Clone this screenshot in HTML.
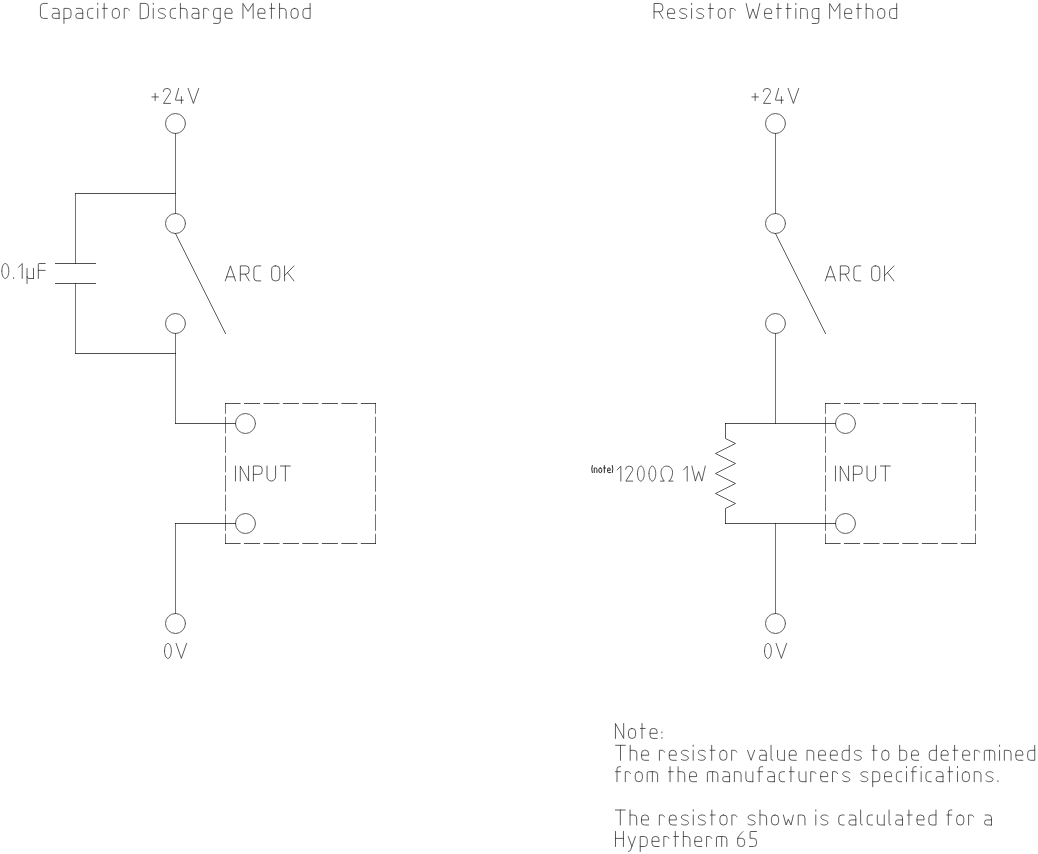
<!DOCTYPE html>
<html><head><meta charset="utf-8"><title>Arc OK wiring</title>
<style>
html,body{margin:0;padding:0;background:#fff;}
body{width:1038px;height:854px;overflow:hidden;font-family:"Liberation Sans",sans-serif;}
svg{display:block;}
path,circle{vector-effect:non-scaling-stroke;}
.b{stroke-linecap:butt;}
</style></head>
<body>
<svg width="1038" height="854" viewBox="0 0 1038 854">
<rect width="1038" height="854" fill="#fff"/>
<g fill="none" stroke="#000" stroke-width="1.0" stroke-linecap="square" stroke-linejoin="miter">
<g stroke="#5e5e5e"><circle cx="175.5" cy="123.5" r="10"/><circle cx="175.5" cy="223.5" r="10"/><circle cx="175.5" cy="323.5" r="10"/><circle cx="245.5" cy="423.5" r="10"/><circle cx="245.5" cy="523.5" r="10"/><circle cx="175.5" cy="623.5" r="10"/><circle cx="775.5" cy="123.5" r="10"/><circle cx="775.5" cy="223.5" r="10"/><circle cx="775.5" cy="323.5" r="10"/><circle cx="845.5" cy="423.5" r="10"/><circle cx="845.5" cy="523.5" r="10"/><circle cx="775.5" cy="623.5" r="10"/></g>
<g stroke-opacity="0.68"><path d="M75.5 193.5L175.5 193.5"/><path d="M55.5 263.5L95.5 263.5"/><path d="M55.5 283.5L95.5 283.5"/><path d="M75.5 353.5L175.5 353.5"/><path d="M175.5 423.5L235.5 423.5"/><path d="M175.5 523.5L235.5 523.5"/><path class="b" d="M225 403.5L240.55 403.5"/><path class="b" d="M243.95 403.5L260.03 403.5"/><path class="b" d="M263.43 403.5L279.51 403.5"/><path class="b" d="M282.91 403.5L298.99 403.5"/><path class="b" d="M302.39 403.5L318.47 403.5"/><path class="b" d="M321.87 403.5L337.95 403.5"/><path class="b" d="M341.35 403.5L357.43 403.5"/><path class="b" d="M360.83 403.5L376 403.5"/><path class="b" d="M225 543.5L240.55 543.5"/><path class="b" d="M243.95 543.5L260.03 543.5"/><path class="b" d="M263.43 543.5L279.51 543.5"/><path class="b" d="M282.91 543.5L298.99 543.5"/><path class="b" d="M302.39 543.5L318.47 543.5"/><path class="b" d="M321.87 543.5L337.95 543.5"/><path class="b" d="M341.35 543.5L357.43 543.5"/><path class="b" d="M360.83 543.5L376 543.5"/><path d="M725.5 423.5L835.5 423.5"/><path d="M725.5 523.5L835.5 523.5"/><path class="b" d="M825 403.5L840.55 403.5"/><path class="b" d="M843.95 403.5L860.03 403.5"/><path class="b" d="M863.43 403.5L879.51 403.5"/><path class="b" d="M882.91 403.5L898.99 403.5"/><path class="b" d="M902.39 403.5L918.47 403.5"/><path class="b" d="M921.87 403.5L937.95 403.5"/><path class="b" d="M941.35 403.5L957.43 403.5"/><path class="b" d="M960.83 403.5L976 403.5"/><path class="b" d="M825 543.5L840.55 543.5"/><path class="b" d="M843.95 543.5L860.03 543.5"/><path class="b" d="M863.43 543.5L879.51 543.5"/><path class="b" d="M882.91 543.5L898.99 543.5"/><path class="b" d="M902.39 543.5L918.47 543.5"/><path class="b" d="M921.87 543.5L937.95 543.5"/><path class="b" d="M941.35 543.5L957.43 543.5"/><path class="b" d="M960.83 543.5L976 543.5"/></g>
<g stroke-opacity="0.55"><path d="M175.5 133.5L175.5 213.5"/><path d="M175.5 333.5L175.5 423.5"/><path d="M75.5 193.5L75.5 263.5"/><path d="M75.5 283.5L75.5 353.5"/><path d="M175.5 523.5L175.5 613.5"/><path class="b" d="M225.5 403L225.5 413.8"/><path class="b" d="M225.5 416.8L225.5 433.3"/><path class="b" d="M225.5 436.3L225.5 452.8"/><path class="b" d="M225.5 455.8L225.5 472.3"/><path class="b" d="M225.5 475.3L225.5 491.8"/><path class="b" d="M225.5 494.8L225.5 511.3"/><path class="b" d="M225.5 514.3L225.5 530.8"/><path class="b" d="M225.5 533.8L225.5 544"/><path class="b" d="M375.5 403L375.5 413.8"/><path class="b" d="M375.5 416.8L375.5 433.3"/><path class="b" d="M375.5 436.3L375.5 452.8"/><path class="b" d="M375.5 455.8L375.5 472.3"/><path class="b" d="M375.5 475.3L375.5 491.8"/><path class="b" d="M375.5 494.8L375.5 511.3"/><path class="b" d="M375.5 514.3L375.5 530.8"/><path class="b" d="M375.5 533.8L375.5 544"/><path d="M775.5 133.5L775.5 213.5"/><path d="M775.5 333.5L775.5 423.5"/><path d="M775.5 523.5L775.5 613.5"/><path class="b" d="M825.5 403L825.5 413.8"/><path class="b" d="M825.5 416.8L825.5 433.3"/><path class="b" d="M825.5 436.3L825.5 452.8"/><path class="b" d="M825.5 455.8L825.5 472.3"/><path class="b" d="M825.5 475.3L825.5 491.8"/><path class="b" d="M825.5 494.8L825.5 511.3"/><path class="b" d="M825.5 514.3L825.5 530.8"/><path class="b" d="M825.5 533.8L825.5 544"/><path class="b" d="M975.5 403L975.5 413.8"/><path class="b" d="M975.5 416.8L975.5 433.3"/><path class="b" d="M975.5 436.3L975.5 452.8"/><path class="b" d="M975.5 455.8L975.5 472.3"/><path class="b" d="M975.5 475.3L975.5 491.8"/><path class="b" d="M975.5 494.8L975.5 511.3"/><path class="b" d="M975.5 514.3L975.5 530.8"/><path class="b" d="M975.5 533.8L975.5 544"/></g>
<g stroke-opacity="0.64"><path d="M175.5 233.5L225.5 333.5"/><path d="M775.5 233.5L825.5 333.5"/><path d="M725.5 423.5 L725.5 438.5 L735.5 443.5 L715.5 453.5 L735.5 463.5 L715.5 473.5 L735.5 483.5 L715.5 493.5 L735.5 503.5 L725.5 508.5 L725.5 523.5"/></g>
</g>
<g fill="none" stroke="#262626" stroke-width="0.75" stroke-linecap="round" stroke-linejoin="round" vector-effect="non-scaling-stroke">
<g transform="translate(40.43 18.4) scale(1.0053 1.0000)"><path transform="translate(0 0)" d="M 6.9 -15 H 3.2 A 3.2 3.2 0 0 0 0 -11.8 V -3.2 A 3.2 3.2 0 0 0 3.2 0 H 6.9"/><path transform="translate(11.7 0)" d="M 0.6 -10 H 4.1 A 2.8 2.8 0 0 1 6.9 -7.2 V 0 M 6.9 -5.1 H 2.3 A 2.3 2.3 0 0 0 0 -2.8 V -2.3 A 2.3 2.3 0 0 0 2.3 0 H 6.9"/><path transform="translate(23.4 0)" d="M 0 5 V -10 H 4 A 3 3 0 0 1 7 -7 V -3 A 3 3 0 0 1 4 0 H 0"/><path transform="translate(35.2 0)" d="M 0.6 -10 H 4.1 A 2.8 2.8 0 0 1 6.9 -7.2 V 0 M 6.9 -5.1 H 2.3 A 2.3 2.3 0 0 0 0 -2.8 V -2.3 A 2.3 2.3 0 0 0 2.3 0 H 6.9"/><path transform="translate(46.9 0)" d="M 5.3 -10 H 3 A 3 3 0 0 0 0 -7 V -3 A 3 3 0 0 0 3 0 H 5.3"/><path transform="translate(57 0)" d="M 0 -10 V 0 M 0 -15.2 V -14"/><path transform="translate(61.8 0)" d="M 1.6 -15 V 0 M 0 -10 H 4.85"/><path transform="translate(71.45 0)" d="M 3.4 -10 H 3.7 A 3.4 3.4 0 0 1 7.1 -6.6 V -3.4 A 3.4 3.4 0 0 1 3.7 0 H 3.4 A 3.4 3.4 0 0 1 0 -3.4 V -6.6 A 3.4 3.4 0 0 1 3.4 -10 Z"/><path transform="translate(83.35 0)" d="M 0 0 V -10 H 2.6 C 3.7 -10 4.6 -9.4 5.1 -8.1"/><path transform="translate(99.25 0)" d="M 0 0 V -15 H 4.9 A 3.3 3.3 0 0 1 8.2 -11.7 V -3.3 A 3.3 3.3 0 0 1 4.9 0 Z"/><path transform="translate(112.25 0)" d="M 0 -10 V 0 M 0 -15.2 V -14"/><path transform="translate(117.05 0)" d="M 7.3 -8.9 C 6.7 -9.8 5.5 -10 3.9 -10 C 1.8 -10 0.3 -9.3 0.3 -7.9 C 0.3 -6.3 1.9 -5.6 3.6 -5 C 5.3 -4.4 7.3 -3.8 7.3 -2.3 C 7.3 -0.8 5.7 0 3.6 0 C 2.2 0 0.9 -0.3 0.2 -0.95"/><path transform="translate(129.15 0)" d="M 5.3 -10 H 3 A 3 3 0 0 0 0 -7 V -3 A 3 3 0 0 0 3 0 H 5.3"/><path transform="translate(139.25 0)" d="M 0 -15 V 0 M 0 -10 H 3.6 A 3 3 0 0 1 6.6 -7 V 0"/><path transform="translate(150.65 0)" d="M 0.6 -10 H 4.1 A 2.8 2.8 0 0 1 6.9 -7.2 V 0 M 6.9 -5.1 H 2.3 A 2.3 2.3 0 0 0 0 -2.8 V -2.3 A 2.3 2.3 0 0 0 2.3 0 H 6.9"/><path transform="translate(162.35 0)" d="M 0 0 V -10 H 2.6 C 3.7 -10 4.6 -9.4 5.1 -8.1"/><path transform="translate(172.25 0)" d="M 6.6 -10 H 3 A 3 3 0 0 0 0 -7 V -3 A 3 3 0 0 0 3 0 H 6.6 M 6.6 -10 V 2.8 A 2.2 2.2 0 0 1 4.4 5 H 0"/><path transform="translate(183.65 0)" d="M 0 -5.1 H 7 V -6.8 A 3.2 3.2 0 0 0 3.8 -10 H 3 A 3 3 0 0 0 0 -7 V -3 A 3 3 0 0 0 3 0 H 7"/><path transform="translate(201.45 0)" d="M 0 0 V -15 L 5.08 -7.05 L 10.15 -15 V 0"/><path transform="translate(216.4 0)" d="M 0 -5.1 H 7 V -6.8 A 3.2 3.2 0 0 0 3.8 -10 H 3 A 3 3 0 0 0 0 -7 V -3 A 3 3 0 0 0 3 0 H 7"/><path transform="translate(228.2 0)" d="M 1.6 -15 V 0 M 0 -10 H 4.85"/><path transform="translate(237.85 0)" d="M 0 -15 V 0 M 0 -10 H 3.6 A 3 3 0 0 1 6.6 -7 V 0"/><path transform="translate(249.25 0)" d="M 3.4 -10 H 3.7 A 3.4 3.4 0 0 1 7.1 -6.6 V -3.4 A 3.4 3.4 0 0 1 3.7 0 H 3.4 A 3.4 3.4 0 0 1 0 -3.4 V -6.6 A 3.4 3.4 0 0 1 3.4 -10 Z"/><path transform="translate(261.15 0)" d="M 7.1 -15 V 0 H 3 A 3 3 0 0 1 0 -3 V -7 A 3 3 0 0 1 3 -10 H 7.1"/></g>
<g transform="translate(654.05 18.5) scale(1.0037 1.0000)"><path transform="translate(0 0)" d="M 0 0 V -15 H 5.6 A 3.1 3.1 0 0 1 8.7 -11.9 V -9.85 A 3.1 3.1 0 0 1 5.6 -6.75 H 0 M 4.9 -6.75 L 8.85 0"/><path transform="translate(13.5 0)" d="M 0 -5.1 H 7 V -6.8 A 3.2 3.2 0 0 0 3.8 -10 H 3 A 3 3 0 0 0 0 -7 V -3 A 3 3 0 0 0 3 0 H 7"/><path transform="translate(25.3 0)" d="M 7.3 -8.9 C 6.7 -9.8 5.5 -10 3.9 -10 C 1.8 -10 0.3 -9.3 0.3 -7.9 C 0.3 -6.3 1.9 -5.6 3.6 -5 C 5.3 -4.4 7.3 -3.8 7.3 -2.3 C 7.3 -0.8 5.7 0 3.6 0 C 2.2 0 0.9 -0.3 0.2 -0.95"/><path transform="translate(37.4 0)" d="M 0 -10 V 0 M 0 -15.2 V -14"/><path transform="translate(42.2 0)" d="M 7.3 -8.9 C 6.7 -9.8 5.5 -10 3.9 -10 C 1.8 -10 0.3 -9.3 0.3 -7.9 C 0.3 -6.3 1.9 -5.6 3.6 -5 C 5.3 -4.4 7.3 -3.8 7.3 -2.3 C 7.3 -0.8 5.7 0 3.6 0 C 2.2 0 0.9 -0.3 0.2 -0.95"/><path transform="translate(54.3 0)" d="M 1.6 -15 V 0 M 0 -10 H 4.85"/><path transform="translate(63.95 0)" d="M 3.4 -10 H 3.7 A 3.4 3.4 0 0 1 7.1 -6.6 V -3.4 A 3.4 3.4 0 0 1 3.7 0 H 3.4 A 3.4 3.4 0 0 1 0 -3.4 V -6.6 A 3.4 3.4 0 0 1 3.4 -10 Z"/><path transform="translate(75.85 0)" d="M 0 0 V -10 H 2.6 C 3.7 -10 4.6 -9.4 5.1 -8.1"/><path transform="translate(91.75 0)" d="M 0 -15 L 3.54 0 L 6.8 -9.6 L 10.06 0 L 13.6 -15"/><path transform="translate(110.15 0)" d="M 0 -5.1 H 7 V -6.8 A 3.2 3.2 0 0 0 3.8 -10 H 3 A 3 3 0 0 0 0 -7 V -3 A 3 3 0 0 0 3 0 H 7"/><path transform="translate(121.95 0)" d="M 1.6 -15 V 0 M 0 -10 H 4.85"/><path transform="translate(131.6 0)" d="M 1.6 -15 V 0 M 0 -10 H 4.85"/><path transform="translate(141.25 0)" d="M 0 -10 V 0 M 0 -15.2 V -14"/><path transform="translate(146.05 0)" d="M 0 0 V -10 H 3.7 A 3 3 0 0 1 6.7 -7 V 0"/><path transform="translate(157.55 0)" d="M 6.6 -10 H 3 A 3 3 0 0 0 0 -7 V -3 A 3 3 0 0 0 3 0 H 6.6 M 6.6 -10 V 2.8 A 2.2 2.2 0 0 1 4.4 5 H 0"/><path transform="translate(174.95 0)" d="M 0 0 V -15 L 5.08 -7.05 L 10.15 -15 V 0"/><path transform="translate(189.9 0)" d="M 0 -5.1 H 7 V -6.8 A 3.2 3.2 0 0 0 3.8 -10 H 3 A 3 3 0 0 0 0 -7 V -3 A 3 3 0 0 0 3 0 H 7"/><path transform="translate(201.7 0)" d="M 1.6 -15 V 0 M 0 -10 H 4.85"/><path transform="translate(211.35 0)" d="M 0 -15 V 0 M 0 -10 H 3.6 A 3 3 0 0 1 6.6 -7 V 0"/><path transform="translate(222.75 0)" d="M 3.4 -10 H 3.7 A 3.4 3.4 0 0 1 7.1 -6.6 V -3.4 A 3.4 3.4 0 0 1 3.7 0 H 3.4 A 3.4 3.4 0 0 1 0 -3.4 V -6.6 A 3.4 3.4 0 0 1 3.4 -10 Z"/><path transform="translate(234.65 0)" d="M 7.1 -15 V 0 H 3 A 3 3 0 0 1 0 -3 V -7 A 3 3 0 0 1 3 -10 H 7.1"/></g>
<g transform="translate(151.9 103.4) scale(1.0000 1.0000)"><path transform="translate(0 0)" d="M 0 -6.45 H 6.5 M 3.25 -10 V -2.9"/><path transform="translate(11.3 0)" d="M 0 -11.8 A 3.65 3.2 0 0 1 7.3 -11.8 Q 7.3 -10.9 6.7 -10 L 0.3 0 H 7.3"/><path transform="translate(23.4 0)" d="M 3.35 -15 L 0.15 -3.7 Q 0 -3.2 0.5 -3.2 H 8 M 6.1 -6.8 V 0"/><path transform="translate(36.2 0)" d="M 0 -15 L 5.3 0 L 10.6 -15"/></g>
<g transform="translate(225.3 280.9) scale(1.0029 1.0000)"><path transform="translate(0 0)" d="M 0 0 L 5.1 -15 L 10.2 0 M 1.38 -4.05 H 8.82"/><path transform="translate(15 0)" d="M 0 0 V -15 H 5.6 A 3.1 3.1 0 0 1 8.7 -11.9 V -9.85 A 3.1 3.1 0 0 1 5.6 -6.75 H 0 M 4.9 -6.75 L 8.85 0"/><path transform="translate(28.5 0)" d="M 6.9 -15 H 3.2 A 3.2 3.2 0 0 0 0 -11.8 V -3.2 A 3.2 3.2 0 0 0 3.2 0 H 6.9"/><path transform="translate(46.2 0)" d="M 3.6 -15 H 4.5 A 3.6 3.6 0 0 1 8.1 -11.4 V -3.6 A 3.6 3.6 0 0 1 4.5 0 H 3.6 A 3.6 3.6 0 0 1 0 -3.6 V -11.4 A 3.6 3.6 0 0 1 3.6 -15 Z"/><path transform="translate(59.1 0)" d="M 0 0 V -15 M 9.4 -15 L 0 -5.25 M 2.9 -8.26 L 9.4 0"/></g>
<g transform="translate(235.47 481) scale(1.0079 1.0000)"><path transform="translate(0 0)" d="M 0 0 V -15"/><path transform="translate(4.8 0)" d="M 0 0 V -15 L 8.2 0 V -15"/><path transform="translate(17.8 0)" d="M 0 0 V -15 H 5.6 A 3.1 3.1 0 0 1 8.7 -11.9 V -9.7 A 3.1 3.1 0 0 1 5.6 -6.6 H 0"/><path transform="translate(31.3 0)" d="M 0 -15 V -4.25 A 4.25 4.25 0 0 0 8.5 -4.25 V -15"/><path transform="translate(44.6 0)" d="M 0 -15 H 9.8 M 4.9 -15 V 0"/></g>
<g transform="translate(164.5 658.4) scale(0.9910 1.0000)"><path transform="translate(0 0)" d="M 0 -7.5 C 0 -11.64 1.54 -15 3.45 -15 C 5.36 -15 6.9 -11.64 6.9 -7.5 C 6.9 -3.36 5.36 0 3.45 0 C 1.54 0 0 -3.36 0 -7.5"/><path transform="translate(11.7 0)" d="M 0 -15 L 5.3 0 L 10.6 -15"/></g>
<g transform="translate(751.9 103.4) scale(1.0000 1.0000)"><path transform="translate(0 0)" d="M 0 -6.45 H 6.5 M 3.25 -10 V -2.9"/><path transform="translate(11.3 0)" d="M 0 -11.8 A 3.65 3.2 0 0 1 7.3 -11.8 Q 7.3 -10.9 6.7 -10 L 0.3 0 H 7.3"/><path transform="translate(23.4 0)" d="M 3.35 -15 L 0.15 -3.7 Q 0 -3.2 0.5 -3.2 H 8 M 6.1 -6.8 V 0"/><path transform="translate(36.2 0)" d="M 0 -15 L 5.3 0 L 10.6 -15"/></g>
<g transform="translate(825.3 280.9) scale(1.0029 1.0000)"><path transform="translate(0 0)" d="M 0 0 L 5.1 -15 L 10.2 0 M 1.38 -4.05 H 8.82"/><path transform="translate(15 0)" d="M 0 0 V -15 H 5.6 A 3.1 3.1 0 0 1 8.7 -11.9 V -9.85 A 3.1 3.1 0 0 1 5.6 -6.75 H 0 M 4.9 -6.75 L 8.85 0"/><path transform="translate(28.5 0)" d="M 6.9 -15 H 3.2 A 3.2 3.2 0 0 0 0 -11.8 V -3.2 A 3.2 3.2 0 0 0 3.2 0 H 6.9"/><path transform="translate(46.2 0)" d="M 3.6 -15 H 4.5 A 3.6 3.6 0 0 1 8.1 -11.4 V -3.6 A 3.6 3.6 0 0 1 4.5 0 H 3.6 A 3.6 3.6 0 0 1 0 -3.6 V -11.4 A 3.6 3.6 0 0 1 3.6 -15 Z"/><path transform="translate(59.1 0)" d="M 0 0 V -15 M 9.4 -15 L 0 -5.25 M 2.9 -8.26 L 9.4 0"/></g>
<g transform="translate(835.47 481) scale(1.0079 1.0000)"><path transform="translate(0 0)" d="M 0 0 V -15"/><path transform="translate(4.8 0)" d="M 0 0 V -15 L 8.2 0 V -15"/><path transform="translate(17.8 0)" d="M 0 0 V -15 H 5.6 A 3.1 3.1 0 0 1 8.7 -11.9 V -9.7 A 3.1 3.1 0 0 1 5.6 -6.6 H 0"/><path transform="translate(31.3 0)" d="M 0 -15 V -4.25 A 4.25 4.25 0 0 0 8.5 -4.25 V -15"/><path transform="translate(44.6 0)" d="M 0 -15 H 9.8 M 4.9 -15 V 0"/></g>
<g transform="translate(764.5 658.4) scale(0.9910 1.0000)"><path transform="translate(0 0)" d="M 0 -7.5 C 0 -11.64 1.54 -15 3.45 -15 C 5.36 -15 6.9 -11.64 6.9 -7.5 C 6.9 -3.36 5.36 0 3.45 0 C 1.54 0 0 -3.36 0 -7.5"/><path transform="translate(11.7 0)" d="M 0 -15 L 5.3 0 L 10.6 -15"/></g>
<g transform="translate(1.83 278.5) scale(1.0086 1.0000)"><path transform="translate(0 0)" d="M 0 -7.5 C 0 -11.64 1.54 -15 3.45 -15 C 5.36 -15 6.9 -11.64 6.9 -7.5 C 6.9 -3.36 5.36 0 3.45 0 C 1.54 0 0 -3.36 0 -7.5"/><path transform="translate(11.7 0)" d="M 0 -0.9 V 0"/><path transform="translate(16.5 0)" d="M 3.7 0 V -15 L 0 -11.2"/><path transform="translate(25 0)" d="M 0 -10 V 5 M 0 -1.9 A 1.9 1.9 0 0 0 1.9 0 H 6.4 M 6.4 -10 V 0"/><path transform="translate(36.2 0)" d="M 0 0 V -14.2 A 0.8 0.8 0 0 1 0.8 -15 H 6.8 M 0 -8.15 H 6.8"/></g>
<g transform="translate(617.2 481.1) scale(0.9833 1.0000)"><path transform="translate(0 0)" d="M 3.7 0 V -15 L 0 -11.2"/><path transform="translate(8.5 0)" d="M 0 -11.8 A 3.65 3.2 0 0 1 7.3 -11.8 Q 7.3 -10.9 6.7 -10 L 0.3 0 H 7.3"/><path transform="translate(20.6 0)" d="M 0 -7.5 C 0 -11.64 1.54 -15 3.45 -15 C 5.36 -15 6.9 -11.64 6.9 -7.5 C 6.9 -3.36 5.36 0 3.45 0 C 1.54 0 0 -3.36 0 -7.5"/><path transform="translate(32.3 0)" d="M 0 -7.5 C 0 -11.64 1.54 -15 3.45 -15 C 5.36 -15 6.9 -11.64 6.9 -7.5 C 6.9 -3.36 5.36 0 3.45 0 C 1.54 0 0 -3.36 0 -7.5"/><path transform="translate(44 0)" d="M 0 0 H 3.7 M 3.5 -0.3 C 1.6 -3 0.55 -5.6 0.55 -8.6 C 0.55 -12.6 3.2 -15 6.4 -15 C 9.6 -15 12.3 -12.6 12.3 -8.6 C 12.3 -5.6 11.2 -3 9.2 -0.3 M 8.4 0 H 12.7"/><path transform="translate(67.5 0)" d="M 3.7 0 V -15 L 0 -11.2"/><path transform="translate(76 0)" d="M 0 -15 L 3.54 0 L 6.8 -9.6 L 10.06 0 L 13.6 -15"/></g>
<g transform="translate(591.4 472.6) scale(0.4033 0.4600)" stroke-width="1.0" stroke="#2a2a2a"><path transform="translate(0 0)" d="M 2.2 -15.4 Q -0.7 -7.7 2.2 0"/><path transform="translate(7 0)" d="M 0 0 V -10 H 3.7 A 3 3 0 0 1 6.7 -7 V 0"/><path transform="translate(18.5 0)" d="M 3.4 -10 H 3.7 A 3.4 3.4 0 0 1 7.1 -6.6 V -3.4 A 3.4 3.4 0 0 1 3.7 0 H 3.4 A 3.4 3.4 0 0 1 0 -3.4 V -6.6 A 3.4 3.4 0 0 1 3.4 -10 Z"/><path transform="translate(30.4 0)" d="M 1.6 -15 V 0 M 0 -10 H 4.85"/><path transform="translate(40.05 0)" d="M 0 -5.1 H 7 V -6.8 A 3.2 3.2 0 0 0 3.8 -10 H 3 A 3 3 0 0 0 0 -7 V -3 A 3 3 0 0 0 3 0 H 7"/><path transform="translate(51.85 0)" d="M 0 -15.4 Q 2.9 -7.7 0 0"/></g>
<g transform="translate(615.45 738.45) scale(1.0022 1.0000)"><path transform="translate(0 0)" d="M 0 0 V -15 L 8.2 0 V -15"/><path transform="translate(13 0)" d="M 3.4 -10 H 3.7 A 3.4 3.4 0 0 1 7.1 -6.6 V -3.4 A 3.4 3.4 0 0 1 3.7 0 H 3.4 A 3.4 3.4 0 0 1 0 -3.4 V -6.6 A 3.4 3.4 0 0 1 3.4 -10 Z"/><path transform="translate(24.9 0)" d="M 1.6 -15 V 0 M 0 -10 H 4.85"/><path transform="translate(34.55 0)" d="M 0 -5.1 H 7 V -6.8 A 3.2 3.2 0 0 0 3.8 -10 H 3 A 3 3 0 0 0 0 -7 V -3 A 3 3 0 0 0 3 0 H 7"/><path transform="translate(46.35 0)" d="M 0 -6.6 V -5.6 M 0 -1 V 0"/></g>
<g transform="translate(615.6 760.3) scale(1.0000 1.0000)"><path transform="translate(0 0)" d="M 0 -15 H 9.8 M 4.9 -15 V 0"/><path transform="translate(14.6 0)" d="M 0 -15 V 0 M 0 -10 H 3.6 A 3 3 0 0 1 6.6 -7 V 0"/><path transform="translate(26 0)" d="M 0 -5.1 H 7 V -6.8 A 3.2 3.2 0 0 0 3.8 -10 H 3 A 3 3 0 0 0 0 -7 V -3 A 3 3 0 0 0 3 0 H 7"/><path transform="translate(43.8 0)" d="M 0 0 V -10 H 2.6 C 3.7 -10 4.6 -9.4 5.1 -8.1"/><path transform="translate(53.7 0)" d="M 0 -5.1 H 7 V -6.8 A 3.2 3.2 0 0 0 3.8 -10 H 3 A 3 3 0 0 0 0 -7 V -3 A 3 3 0 0 0 3 0 H 7"/><path transform="translate(65.5 0)" d="M 7.3 -8.9 C 6.7 -9.8 5.5 -10 3.9 -10 C 1.8 -10 0.3 -9.3 0.3 -7.9 C 0.3 -6.3 1.9 -5.6 3.6 -5 C 5.3 -4.4 7.3 -3.8 7.3 -2.3 C 7.3 -0.8 5.7 0 3.6 0 C 2.2 0 0.9 -0.3 0.2 -0.95"/><path transform="translate(77.6 0)" d="M 0 -10 V 0 M 0 -15.2 V -14"/><path transform="translate(82.4 0)" d="M 7.3 -8.9 C 6.7 -9.8 5.5 -10 3.9 -10 C 1.8 -10 0.3 -9.3 0.3 -7.9 C 0.3 -6.3 1.9 -5.6 3.6 -5 C 5.3 -4.4 7.3 -3.8 7.3 -2.3 C 7.3 -0.8 5.7 0 3.6 0 C 2.2 0 0.9 -0.3 0.2 -0.95"/><path transform="translate(94.5 0)" d="M 1.6 -15 V 0 M 0 -10 H 4.85"/><path transform="translate(104.15 0)" d="M 3.4 -10 H 3.7 A 3.4 3.4 0 0 1 7.1 -6.6 V -3.4 A 3.4 3.4 0 0 1 3.7 0 H 3.4 A 3.4 3.4 0 0 1 0 -3.4 V -6.6 A 3.4 3.4 0 0 1 3.4 -10 Z"/><path transform="translate(116.05 0)" d="M 0 0 V -10 H 2.6 C 3.7 -10 4.6 -9.4 5.1 -8.1"/><path transform="translate(131.95 0)" d="M 0 -10 L 3.5 0 L 7 -10"/><path transform="translate(143.75 0)" d="M 0.6 -10 H 4.1 A 2.8 2.8 0 0 1 6.9 -7.2 V 0 M 6.9 -5.1 H 2.3 A 2.3 2.3 0 0 0 0 -2.8 V -2.3 A 2.3 2.3 0 0 0 2.3 0 H 6.9"/><path transform="translate(155.45 0)" d="M 0 -15 V -1.7 A 1.7 1.7 0 0 0 1.7 0"/><path transform="translate(161.95 0)" d="M 0 -10 V -3 A 3 3 0 0 0 3 0 H 6.9 M 6.9 -10 V 0"/><path transform="translate(173.65 0)" d="M 0 -5.1 H 7 V -6.8 A 3.2 3.2 0 0 0 3.8 -10 H 3 A 3 3 0 0 0 0 -7 V -3 A 3 3 0 0 0 3 0 H 7"/><path transform="translate(191.45 0)" d="M 0 0 V -10 H 3.7 A 3 3 0 0 1 6.7 -7 V 0"/><path transform="translate(202.95 0)" d="M 0 -5.1 H 7 V -6.8 A 3.2 3.2 0 0 0 3.8 -10 H 3 A 3 3 0 0 0 0 -7 V -3 A 3 3 0 0 0 3 0 H 7"/><path transform="translate(214.75 0)" d="M 0 -5.1 H 7 V -6.8 A 3.2 3.2 0 0 0 3.8 -10 H 3 A 3 3 0 0 0 0 -7 V -3 A 3 3 0 0 0 3 0 H 7"/><path transform="translate(226.55 0)" d="M 7.1 -15 V 0 H 3 A 3 3 0 0 1 0 -3 V -7 A 3 3 0 0 1 3 -10 H 7.1"/><path transform="translate(238.45 0)" d="M 7.3 -8.9 C 6.7 -9.8 5.5 -10 3.9 -10 C 1.8 -10 0.3 -9.3 0.3 -7.9 C 0.3 -6.3 1.9 -5.6 3.6 -5 C 5.3 -4.4 7.3 -3.8 7.3 -2.3 C 7.3 -0.8 5.7 0 3.6 0 C 2.2 0 0.9 -0.3 0.2 -0.95"/><path transform="translate(256.55 0)" d="M 1.6 -15 V 0 M 0 -10 H 4.85"/><path transform="translate(266.2 0)" d="M 3.4 -10 H 3.7 A 3.4 3.4 0 0 1 7.1 -6.6 V -3.4 A 3.4 3.4 0 0 1 3.7 0 H 3.4 A 3.4 3.4 0 0 1 0 -3.4 V -6.6 A 3.4 3.4 0 0 1 3.4 -10 Z"/><path transform="translate(284.1 0)" d="M 0 -15 V 0 H 4 A 3 3 0 0 0 7 -3 V -7 A 3 3 0 0 0 4 -10 H 0"/><path transform="translate(295.9 0)" d="M 0 -5.1 H 7 V -6.8 A 3.2 3.2 0 0 0 3.8 -10 H 3 A 3 3 0 0 0 0 -7 V -3 A 3 3 0 0 0 3 0 H 7"/><path transform="translate(313.7 0)" d="M 7.1 -15 V 0 H 3 A 3 3 0 0 1 0 -3 V -7 A 3 3 0 0 1 3 -10 H 7.1"/><path transform="translate(325.6 0)" d="M 0 -5.1 H 7 V -6.8 A 3.2 3.2 0 0 0 3.8 -10 H 3 A 3 3 0 0 0 0 -7 V -3 A 3 3 0 0 0 3 0 H 7"/><path transform="translate(337.4 0)" d="M 1.6 -15 V 0 M 0 -10 H 4.85"/><path transform="translate(347.05 0)" d="M 0 -5.1 H 7 V -6.8 A 3.2 3.2 0 0 0 3.8 -10 H 3 A 3 3 0 0 0 0 -7 V -3 A 3 3 0 0 0 3 0 H 7"/><path transform="translate(358.85 0)" d="M 0 0 V -10 H 2.6 C 3.7 -10 4.6 -9.4 5.1 -8.1"/><path transform="translate(368.75 0)" d="M 0 0 V -8.5 A 1.5 1.5 0 0 1 1.5 -10 H 7.4 A 3 3 0 0 1 10.4 -7 V 0 M 5.2 -10 V 0"/><path transform="translate(383.95 0)" d="M 0 -10 V 0 M 0 -15.2 V -14"/><path transform="translate(388.75 0)" d="M 0 0 V -10 H 3.7 A 3 3 0 0 1 6.7 -7 V 0"/><path transform="translate(400.25 0)" d="M 0 -5.1 H 7 V -6.8 A 3.2 3.2 0 0 0 3.8 -10 H 3 A 3 3 0 0 0 0 -7 V -3 A 3 3 0 0 0 3 0 H 7"/><path transform="translate(412.05 0)" d="M 7.1 -15 V 0 H 3 A 3 3 0 0 1 0 -3 V -7 A 3 3 0 0 1 3 -10 H 7.1"/></g>
<g transform="translate(615.5 781.7) scale(1.0028 1.0000)"><path transform="translate(0 0)" d="M 1.5 0 V -12.8 A 2.2 2.2 0 0 1 3.7 -15 H 5 M 0 -10 H 5"/><path transform="translate(9.8 0)" d="M 0 0 V -10 H 2.6 C 3.7 -10 4.6 -9.4 5.1 -8.1"/><path transform="translate(19.7 0)" d="M 3.4 -10 H 3.7 A 3.4 3.4 0 0 1 7.1 -6.6 V -3.4 A 3.4 3.4 0 0 1 3.7 0 H 3.4 A 3.4 3.4 0 0 1 0 -3.4 V -6.6 A 3.4 3.4 0 0 1 3.4 -10 Z"/><path transform="translate(31.6 0)" d="M 0 0 V -8.5 A 1.5 1.5 0 0 1 1.5 -10 H 7.4 A 3 3 0 0 1 10.4 -7 V 0 M 5.2 -10 V 0"/><path transform="translate(52.8 0)" d="M 1.6 -15 V 0 M 0 -10 H 4.85"/><path transform="translate(62.45 0)" d="M 0 -15 V 0 M 0 -10 H 3.6 A 3 3 0 0 1 6.6 -7 V 0"/><path transform="translate(73.85 0)" d="M 0 -5.1 H 7 V -6.8 A 3.2 3.2 0 0 0 3.8 -10 H 3 A 3 3 0 0 0 0 -7 V -3 A 3 3 0 0 0 3 0 H 7"/><path transform="translate(91.65 0)" d="M 0 0 V -8.5 A 1.5 1.5 0 0 1 1.5 -10 H 7.4 A 3 3 0 0 1 10.4 -7 V 0 M 5.2 -10 V 0"/><path transform="translate(106.85 0)" d="M 0.6 -10 H 4.1 A 2.8 2.8 0 0 1 6.9 -7.2 V 0 M 6.9 -5.1 H 2.3 A 2.3 2.3 0 0 0 0 -2.8 V -2.3 A 2.3 2.3 0 0 0 2.3 0 H 6.9"/><path transform="translate(118.55 0)" d="M 0 0 V -10 H 3.7 A 3 3 0 0 1 6.7 -7 V 0"/><path transform="translate(130.05 0)" d="M 0 -10 V -3 A 3 3 0 0 0 3 0 H 6.9 M 6.9 -10 V 0"/><path transform="translate(141.75 0)" d="M 1.5 0 V -12.8 A 2.2 2.2 0 0 1 3.7 -15 H 5 M 0 -10 H 5"/><path transform="translate(151.55 0)" d="M 0.6 -10 H 4.1 A 2.8 2.8 0 0 1 6.9 -7.2 V 0 M 6.9 -5.1 H 2.3 A 2.3 2.3 0 0 0 0 -2.8 V -2.3 A 2.3 2.3 0 0 0 2.3 0 H 6.9"/><path transform="translate(163.25 0)" d="M 5.3 -10 H 3 A 3 3 0 0 0 0 -7 V -3 A 3 3 0 0 0 3 0 H 5.3"/><path transform="translate(173.35 0)" d="M 1.6 -15 V 0 M 0 -10 H 4.85"/><path transform="translate(183 0)" d="M 0 -10 V -3 A 3 3 0 0 0 3 0 H 6.9 M 6.9 -10 V 0"/><path transform="translate(194.7 0)" d="M 0 0 V -10 H 2.6 C 3.7 -10 4.6 -9.4 5.1 -8.1"/><path transform="translate(204.6 0)" d="M 0 -5.1 H 7 V -6.8 A 3.2 3.2 0 0 0 3.8 -10 H 3 A 3 3 0 0 0 0 -7 V -3 A 3 3 0 0 0 3 0 H 7"/><path transform="translate(216.4 0)" d="M 0 0 V -10 H 2.6 C 3.7 -10 4.6 -9.4 5.1 -8.1"/><path transform="translate(226.3 0)" d="M 7.3 -8.9 C 6.7 -9.8 5.5 -10 3.9 -10 C 1.8 -10 0.3 -9.3 0.3 -7.9 C 0.3 -6.3 1.9 -5.6 3.6 -5 C 5.3 -4.4 7.3 -3.8 7.3 -2.3 C 7.3 -0.8 5.7 0 3.6 0 C 2.2 0 0.9 -0.3 0.2 -0.95"/><path transform="translate(244.4 0)" d="M 7.3 -8.9 C 6.7 -9.8 5.5 -10 3.9 -10 C 1.8 -10 0.3 -9.3 0.3 -7.9 C 0.3 -6.3 1.9 -5.6 3.6 -5 C 5.3 -4.4 7.3 -3.8 7.3 -2.3 C 7.3 -0.8 5.7 0 3.6 0 C 2.2 0 0.9 -0.3 0.2 -0.95"/><path transform="translate(256.5 0)" d="M 0 5 V -10 H 4 A 3 3 0 0 1 7 -7 V -3 A 3 3 0 0 1 4 0 H 0"/><path transform="translate(268.3 0)" d="M 0 -5.1 H 7 V -6.8 A 3.2 3.2 0 0 0 3.8 -10 H 3 A 3 3 0 0 0 0 -7 V -3 A 3 3 0 0 0 3 0 H 7"/><path transform="translate(280.1 0)" d="M 5.3 -10 H 3 A 3 3 0 0 0 0 -7 V -3 A 3 3 0 0 0 3 0 H 5.3"/><path transform="translate(290.2 0)" d="M 0 -10 V 0 M 0 -15.2 V -14"/><path transform="translate(295 0)" d="M 1.5 0 V -12.8 A 2.2 2.2 0 0 1 3.7 -15 H 5 M 0 -10 H 5"/><path transform="translate(304.8 0)" d="M 0 -10 V 0 M 0 -15.2 V -14"/><path transform="translate(309.6 0)" d="M 5.3 -10 H 3 A 3 3 0 0 0 0 -7 V -3 A 3 3 0 0 0 3 0 H 5.3"/><path transform="translate(319.7 0)" d="M 0.6 -10 H 4.1 A 2.8 2.8 0 0 1 6.9 -7.2 V 0 M 6.9 -5.1 H 2.3 A 2.3 2.3 0 0 0 0 -2.8 V -2.3 A 2.3 2.3 0 0 0 2.3 0 H 6.9"/><path transform="translate(331.4 0)" d="M 1.6 -15 V 0 M 0 -10 H 4.85"/><path transform="translate(341.05 0)" d="M 0 -10 V 0 M 0 -15.2 V -14"/><path transform="translate(345.85 0)" d="M 3.4 -10 H 3.7 A 3.4 3.4 0 0 1 7.1 -6.6 V -3.4 A 3.4 3.4 0 0 1 3.7 0 H 3.4 A 3.4 3.4 0 0 1 0 -3.4 V -6.6 A 3.4 3.4 0 0 1 3.4 -10 Z"/><path transform="translate(357.75 0)" d="M 0 0 V -10 H 3.7 A 3 3 0 0 1 6.7 -7 V 0"/><path transform="translate(369.25 0)" d="M 7.3 -8.9 C 6.7 -9.8 5.5 -10 3.9 -10 C 1.8 -10 0.3 -9.3 0.3 -7.9 C 0.3 -6.3 1.9 -5.6 3.6 -5 C 5.3 -4.4 7.3 -3.8 7.3 -2.3 C 7.3 -0.8 5.7 0 3.6 0 C 2.2 0 0.9 -0.3 0.2 -0.95"/><path transform="translate(381.35 0)" d="M 0 -0.9 V 0"/></g>
<g transform="translate(615.4 825) scale(1.0037 1.0000)"><path transform="translate(0 0)" d="M 0 -15 H 9.8 M 4.9 -15 V 0"/><path transform="translate(14.6 0)" d="M 0 -15 V 0 M 0 -10 H 3.6 A 3 3 0 0 1 6.6 -7 V 0"/><path transform="translate(26 0)" d="M 0 -5.1 H 7 V -6.8 A 3.2 3.2 0 0 0 3.8 -10 H 3 A 3 3 0 0 0 0 -7 V -3 A 3 3 0 0 0 3 0 H 7"/><path transform="translate(43.8 0)" d="M 0 0 V -10 H 2.6 C 3.7 -10 4.6 -9.4 5.1 -8.1"/><path transform="translate(53.7 0)" d="M 0 -5.1 H 7 V -6.8 A 3.2 3.2 0 0 0 3.8 -10 H 3 A 3 3 0 0 0 0 -7 V -3 A 3 3 0 0 0 3 0 H 7"/><path transform="translate(65.5 0)" d="M 7.3 -8.9 C 6.7 -9.8 5.5 -10 3.9 -10 C 1.8 -10 0.3 -9.3 0.3 -7.9 C 0.3 -6.3 1.9 -5.6 3.6 -5 C 5.3 -4.4 7.3 -3.8 7.3 -2.3 C 7.3 -0.8 5.7 0 3.6 0 C 2.2 0 0.9 -0.3 0.2 -0.95"/><path transform="translate(77.6 0)" d="M 0 -10 V 0 M 0 -15.2 V -14"/><path transform="translate(82.4 0)" d="M 7.3 -8.9 C 6.7 -9.8 5.5 -10 3.9 -10 C 1.8 -10 0.3 -9.3 0.3 -7.9 C 0.3 -6.3 1.9 -5.6 3.6 -5 C 5.3 -4.4 7.3 -3.8 7.3 -2.3 C 7.3 -0.8 5.7 0 3.6 0 C 2.2 0 0.9 -0.3 0.2 -0.95"/><path transform="translate(94.5 0)" d="M 1.6 -15 V 0 M 0 -10 H 4.85"/><path transform="translate(104.15 0)" d="M 3.4 -10 H 3.7 A 3.4 3.4 0 0 1 7.1 -6.6 V -3.4 A 3.4 3.4 0 0 1 3.7 0 H 3.4 A 3.4 3.4 0 0 1 0 -3.4 V -6.6 A 3.4 3.4 0 0 1 3.4 -10 Z"/><path transform="translate(116.05 0)" d="M 0 0 V -10 H 2.6 C 3.7 -10 4.6 -9.4 5.1 -8.1"/><path transform="translate(131.95 0)" d="M 7.3 -8.9 C 6.7 -9.8 5.5 -10 3.9 -10 C 1.8 -10 0.3 -9.3 0.3 -7.9 C 0.3 -6.3 1.9 -5.6 3.6 -5 C 5.3 -4.4 7.3 -3.8 7.3 -2.3 C 7.3 -0.8 5.7 0 3.6 0 C 2.2 0 0.9 -0.3 0.2 -0.95"/><path transform="translate(144.05 0)" d="M 0 -15 V 0 M 0 -10 H 3.6 A 3 3 0 0 1 6.6 -7 V 0"/><path transform="translate(155.45 0)" d="M 3.4 -10 H 3.7 A 3.4 3.4 0 0 1 7.1 -6.6 V -3.4 A 3.4 3.4 0 0 1 3.7 0 H 3.4 A 3.4 3.4 0 0 1 0 -3.4 V -6.6 A 3.4 3.4 0 0 1 3.4 -10 Z"/><path transform="translate(167.35 0)" d="M 0 -10 L 2.7 0 L 4.9 -5.8 L 7.6 0 L 10 -10"/><path transform="translate(182.15 0)" d="M 0 0 V -10 H 3.7 A 3 3 0 0 1 6.7 -7 V 0"/><path transform="translate(199.65 0)" d="M 0 -10 V 0 M 0 -15.2 V -14"/><path transform="translate(204.45 0)" d="M 7.3 -8.9 C 6.7 -9.8 5.5 -10 3.9 -10 C 1.8 -10 0.3 -9.3 0.3 -7.9 C 0.3 -6.3 1.9 -5.6 3.6 -5 C 5.3 -4.4 7.3 -3.8 7.3 -2.3 C 7.3 -0.8 5.7 0 3.6 0 C 2.2 0 0.9 -0.3 0.2 -0.95"/><path transform="translate(222.55 0)" d="M 5.3 -10 H 3 A 3 3 0 0 0 0 -7 V -3 A 3 3 0 0 0 3 0 H 5.3"/><path transform="translate(232.65 0)" d="M 0.6 -10 H 4.1 A 2.8 2.8 0 0 1 6.9 -7.2 V 0 M 6.9 -5.1 H 2.3 A 2.3 2.3 0 0 0 0 -2.8 V -2.3 A 2.3 2.3 0 0 0 2.3 0 H 6.9"/><path transform="translate(244.35 0)" d="M 0 -15 V -1.7 A 1.7 1.7 0 0 0 1.7 0"/><path transform="translate(250.85 0)" d="M 5.3 -10 H 3 A 3 3 0 0 0 0 -7 V -3 A 3 3 0 0 0 3 0 H 5.3"/><path transform="translate(260.95 0)" d="M 0 -10 V -3 A 3 3 0 0 0 3 0 H 6.9 M 6.9 -10 V 0"/><path transform="translate(272.65 0)" d="M 0 -15 V -1.7 A 1.7 1.7 0 0 0 1.7 0"/><path transform="translate(279.15 0)" d="M 0.6 -10 H 4.1 A 2.8 2.8 0 0 1 6.9 -7.2 V 0 M 6.9 -5.1 H 2.3 A 2.3 2.3 0 0 0 0 -2.8 V -2.3 A 2.3 2.3 0 0 0 2.3 0 H 6.9"/><path transform="translate(290.85 0)" d="M 1.6 -15 V 0 M 0 -10 H 4.85"/><path transform="translate(300.5 0)" d="M 0 -5.1 H 7 V -6.8 A 3.2 3.2 0 0 0 3.8 -10 H 3 A 3 3 0 0 0 0 -7 V -3 A 3 3 0 0 0 3 0 H 7"/><path transform="translate(312.3 0)" d="M 7.1 -15 V 0 H 3 A 3 3 0 0 1 0 -3 V -7 A 3 3 0 0 1 3 -10 H 7.1"/><path transform="translate(330.2 0)" d="M 1.5 0 V -12.8 A 2.2 2.2 0 0 1 3.7 -15 H 5 M 0 -10 H 5"/><path transform="translate(340 0)" d="M 3.4 -10 H 3.7 A 3.4 3.4 0 0 1 7.1 -6.6 V -3.4 A 3.4 3.4 0 0 1 3.7 0 H 3.4 A 3.4 3.4 0 0 1 0 -3.4 V -6.6 A 3.4 3.4 0 0 1 3.4 -10 Z"/><path transform="translate(351.9 0)" d="M 0 0 V -10 H 2.6 C 3.7 -10 4.6 -9.4 5.1 -8.1"/><path transform="translate(367.8 0)" d="M 0.6 -10 H 4.1 A 2.8 2.8 0 0 1 6.9 -7.2 V 0 M 6.9 -5.1 H 2.3 A 2.3 2.3 0 0 0 0 -2.8 V -2.3 A 2.3 2.3 0 0 0 2.3 0 H 6.9"/></g>
<g transform="translate(615.5 846.5) scale(0.9996 1.0000)"><path transform="translate(0 0)" d="M 0 0 V -15 M 7.95 0 V -15 M 0 -8.1 H 7.95"/><path transform="translate(12.75 0)" d="M 0 -10 L 3.6 -0.3 M 7.2 -10 L 2.4 3.4 Q 1.7 5 0.3 5"/><path transform="translate(24.75 0)" d="M 0 5 V -10 H 4 A 3 3 0 0 1 7 -7 V -3 A 3 3 0 0 1 4 0 H 0"/><path transform="translate(36.55 0)" d="M 0 -5.1 H 7 V -6.8 A 3.2 3.2 0 0 0 3.8 -10 H 3 A 3 3 0 0 0 0 -7 V -3 A 3 3 0 0 0 3 0 H 7"/><path transform="translate(48.35 0)" d="M 0 0 V -10 H 2.6 C 3.7 -10 4.6 -9.4 5.1 -8.1"/><path transform="translate(58.25 0)" d="M 1.6 -15 V 0 M 0 -10 H 4.85"/><path transform="translate(67.9 0)" d="M 0 -15 V 0 M 0 -10 H 3.6 A 3 3 0 0 1 6.6 -7 V 0"/><path transform="translate(79.3 0)" d="M 0 -5.1 H 7 V -6.8 A 3.2 3.2 0 0 0 3.8 -10 H 3 A 3 3 0 0 0 0 -7 V -3 A 3 3 0 0 0 3 0 H 7"/><path transform="translate(91.1 0)" d="M 0 0 V -10 H 2.6 C 3.7 -10 4.6 -9.4 5.1 -8.1"/><path transform="translate(101 0)" d="M 0 0 V -8.5 A 1.5 1.5 0 0 1 1.5 -10 H 7.4 A 3 3 0 0 1 10.4 -7 V 0 M 5.2 -10 V 0"/><path transform="translate(122.2 0)" d="M 0 -8.2 H 3.95 A 3 3 0 0 1 6.95 -5.2 V -3 A 3 3 0 0 1 3.95 0 H 3 A 3 3 0 0 1 0 -3 V -8.2 Q 1 -11 5.3 -15"/><path transform="translate(133.95 0)" d="M 7.1 -15 H 1.3 A 0.6 0.6 0 0 0 0.7 -14.4 V -8.2 H 4.1 A 3 3 0 0 1 7.1 -5.2 V -3 A 3 3 0 0 1 4.1 0 H 0"/></g>
</g>
</svg>
</body></html>
